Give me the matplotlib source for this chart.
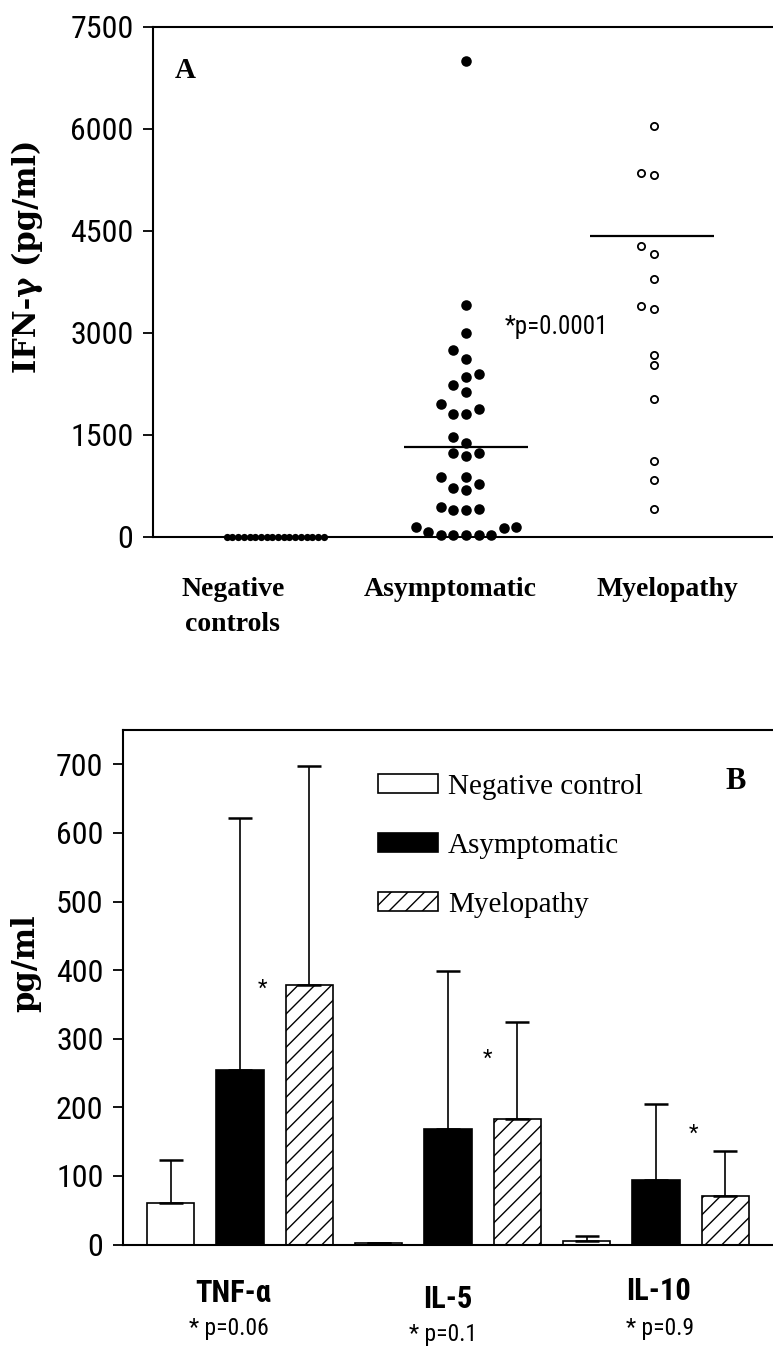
import numpy as np
import matplotlib
matplotlib.use("Agg")
import matplotlib.pyplot as plt
from matplotlib import font_manager as fm

# ---------------- data ----------------
# Panel A: IFN-gamma (pg/ml)
group_labels_a = ["Negative\ncontrols", "Asymptomatic", "Myelopathy"]
neg_controls = [0, 0, 0, 0, 0, 0, 0, 0, 0, 0, 0, 0, 0, 0, 0, 0, 0, 0]
asymptomatic = [7000, 3410, 3000, 2750, 2620, 2400, 2350, 2240, 2130, 1960,
                1880, 1810, 1810, 1470, 1380, 1240, 1240, 1190, 880, 880,
                780, 720, 690, 440, 410, 400, 400, 150, 150, 130, 70,
                30, 30, 30, 30, 30]
myelopathy = [6040, 5360, 5320, 4280, 4160, 3790, 3400, 3350, 2680, 2530,
              2030, 1120, 840, 410]
median_asym = 1320
median_myelo = 4430
ifn_ticks = [0, 1500, 3000, 4500, 6000, 7500]
p_text_a = "*p=0.0001"

# Panel B: cytokines (pg/ml), mean and upper SD
cytokines = ["TNF-\u03b1", "IL-5", "IL-10"]
p_values_b = ["* p=0.06", "* p=0.1", "* p=0.9"]
series_names = ["Negative control", "Asymptomatic", "Myelopathy"]
neg_mean = [60, 2, 5]
neg_sd = [63, 0, 7]
asym_mean = [254, 169, 94]
asym_sd = [368, 229, 111]
myelo_mean = [379, 183, 70]
myelo_sd = [318, 141, 67]
pg_ticks = [0, 100, 200, 300, 400, 500, 600, 700]

# ---------------- fonts ----------------
names = {f.name for f in fm.fontManager.ttflist}
def pick(*cands):
    for c in cands:
        if c in names:
            return c
    return "DejaVu Sans"
NARROW = pick("Liberation Sans Narrow", "Roboto Condensed", "DejaVu Sans Condensed", "Liberation Sans")
SERIF = pick("Liberation Serif", "DejaVu Serif")
WSERIF = pick("DejaVu Serif", "Liberation Serif")
narrow_is_narrow = NARROW in ("Liberation Sans Narrow", "Roboto Condensed", "DejaVu Sans Condensed")
TICK_FS = 23 if narrow_is_narrow else 20

fig = plt.figure(figsize=(7.73, 13.49), dpi=100)

# ---------------- panel A ----------------
axA = fig.add_axes([153 / 773, 1 - 537 / 1349, 620 / 773, 510 / 1349])
positions = [1, 2, 3]
axA.set_xlim(0.335, 3.633)
axA.set_ylim(0, 7500)

fig.canvas.draw()
x_px = axA.transData.transform((1, 0))[0] - axA.transData.transform((0, 0))[0]
y_px = axA.transData.transform((0, 1))[1] - axA.transData.transform((0, 0))[1]


def swarm(values, diam_px, step_px):
    vals = np.asarray(values, dtype=float)
    order = np.argsort(vals, kind="stable")
    placed = []
    offs = np.zeros(len(vals))
    cands = [0] + [s * j for j in range(1, 60) for s in (-1, 1)]
    for i in order:
        y = vals[i] * y_px
        for c in cands:
            x = c * step_px
            if all((x - px) ** 2 + (y - py) ** 2 >= diam_px ** 2 - 1e-6 for px, py in placed):
                break
        placed.append((x, y))
        offs[i] = x / x_px
    return offs

off_neg = swarm(neg_controls, 5.7, 5.7)
off_asym = swarm(asymptomatic, 11.5, 12.6)
off_mye = swarm(myelopathy, 9.5, 12.6)

axA.plot(positions[0] + off_neg, neg_controls, "o", ms=5.2, mfc="black",
         mec="black", mew=0, clip_on=False, zorder=3)
axA.plot(positions[1] + off_asym, asymptomatic, "o", ms=7.6, mfc="black",
         mec="black", mew=0, clip_on=False, zorder=3)
axA.plot(positions[2] + off_mye, myelopathy, "o", ms=5.2, mfc="white",
         mec="black", mew=1.3, clip_on=False, zorder=3)

hw = 0.33
axA.hlines([median_asym], positions[1] - hw, positions[1] + hw, color="black", lw=1.6)
axA.hlines([median_myelo], positions[2] - hw - 0.01, positions[2] + hw - 0.01, color="black", lw=1.6)

axA.set_yticks(ifn_ticks)
axA.set_yticklabels([str(t) for t in ifn_ticks])
axA.tick_params(axis="y", direction="out", length=7, width=1.3, pad=7,
                labelsize=TICK_FS, labelfontfamily=NARROW)
label_pos_a = [positions[0] - 0.24, positions[1] - 0.085, positions[2] + 0.07]
axA.set_xticks(label_pos_a)
axA.set_xticklabels(group_labels_a, fontfamily=SERIF, fontweight="bold", fontsize=20)
for t in axA.get_xticklabels():
    t.set_linespacing(1.5)
axA.tick_params(axis="x", length=0, pad=29)

axA.set_ylabel("IFN-\u03b3 (pg/ml)", fontfamily=WSERIF, fontweight="bold",
               fontsize=22, va="center")
axA.yaxis.set_label_coords(-0.203, 0.551)

axA.text(0.035, 0.914, "A", transform=axA.transAxes, fontfamily=SERIF,
         fontweight="bold", fontsize=21, ha="left", va="center")
axA.text(2.207, 3090, p_text_a, fontfamily=NARROW, fontsize=18, ha="left", va="center")

# ---------------- panel B ----------------
axB = fig.add_axes([123 / 773, 1 - 1244.5 / 1349, 650 / 773, 514.5 / 1349])
xg = np.arange(len(cytokines))
bw = 0.226
dx = 0.332
axB.set_xlim(-0.5625, 2.5625)
axB.set_ylim(0, 750)

ekw = dict(ecolor="black", elinewidth=1.2, capsize=8.5, capthick=1.8)
zeros = [0] * len(cytokines)
axB.bar(xg - dx, neg_mean, bw, color="white", edgecolor="black", lw=1.2,
        yerr=[zeros, neg_sd], error_kw=ekw, label=series_names[0])
axB.bar(xg, asym_mean, bw, color="black", edgecolor="black", lw=1.2,
        yerr=[zeros, asym_sd], error_kw=ekw, label=series_names[1])
plt.rcParams["hatch.linewidth"] = 1.0
axB.bar(xg + dx, myelo_mean, bw, color="white", edgecolor="black", lw=1.2,
        hatch="//", yerr=[zeros, myelo_sd], error_kw=ekw, label=series_names[2])

axB.set_yticks(pg_ticks)
axB.set_yticklabels([str(t) for t in pg_ticks])
axB.tick_params(axis="y", direction="out", length=7, width=1.3, pad=7,
                labelsize=TICK_FS, labelfontfamily=NARROW)
axB.set_xticks([])

axB.set_ylabel("pg/ml", fontfamily=WSERIF, fontweight="bold", fontsize=22, va="center")
axB.yaxis.set_label_coords(-0.149, 0.547)

axB.text(0.942, 0.899, "B", transform=axB.transAxes, fontfamily=SERIF,
         fontweight="bold", fontsize=22, ha="center", va="center")

leg = axB.legend(loc="upper left", bbox_to_anchor=(0.392, 0.915), frameon=False,
                 prop={"family": SERIF, "size": 21}, handlelength=2.05,
                 handleheight=0.6, handletextpad=0.35, labelspacing=1.13,
                 borderpad=0, borderaxespad=0)

# significance stars
star_dx = [0.11, 0.19, 0.18]
star_y = [372, 270, 160]
for g, sx, sy in zip(xg, star_dx, star_y):
    axB.text(g + sx, sy, "*", fontfamily=NARROW, fontsize=16, ha="center", va="center")

# category labels and p-values under axis
name_dx = [-0.035, 0.0, 0.01]
name_dy = [33, 40, 32]
p_dx = [-0.055, -0.025, 0.02]
p_dy = [72, 78, 73]
for g, nm, pv, ndx, ndy, pdx, pdy in zip(xg, cytokines, p_values_b, name_dx, name_dy, p_dx, p_dy):
    axB.annotate(nm, xy=(g + ndx, 0), xycoords=("data", "axes fraction"),
                 xytext=(0, -ndy * 0.72), textcoords="offset points",
                 ha="center", va="top", fontfamily=NARROW, fontweight="bold", fontsize=22)
    axB.annotate(pv, xy=(g + pdx, 0), xycoords=("data", "axes fraction"),
                 xytext=(0, -pdy * 0.72), textcoords="offset points",
                 ha="center", va="top", fontfamily=NARROW, fontsize=17)

for ax in (axA, axB):
    ax.spines["right"].set_visible(False)
    for s in ("left", "top", "bottom"):
        ax.spines[s].set_linewidth(1.5)

fig.savefig("out.png", dpi=100)
